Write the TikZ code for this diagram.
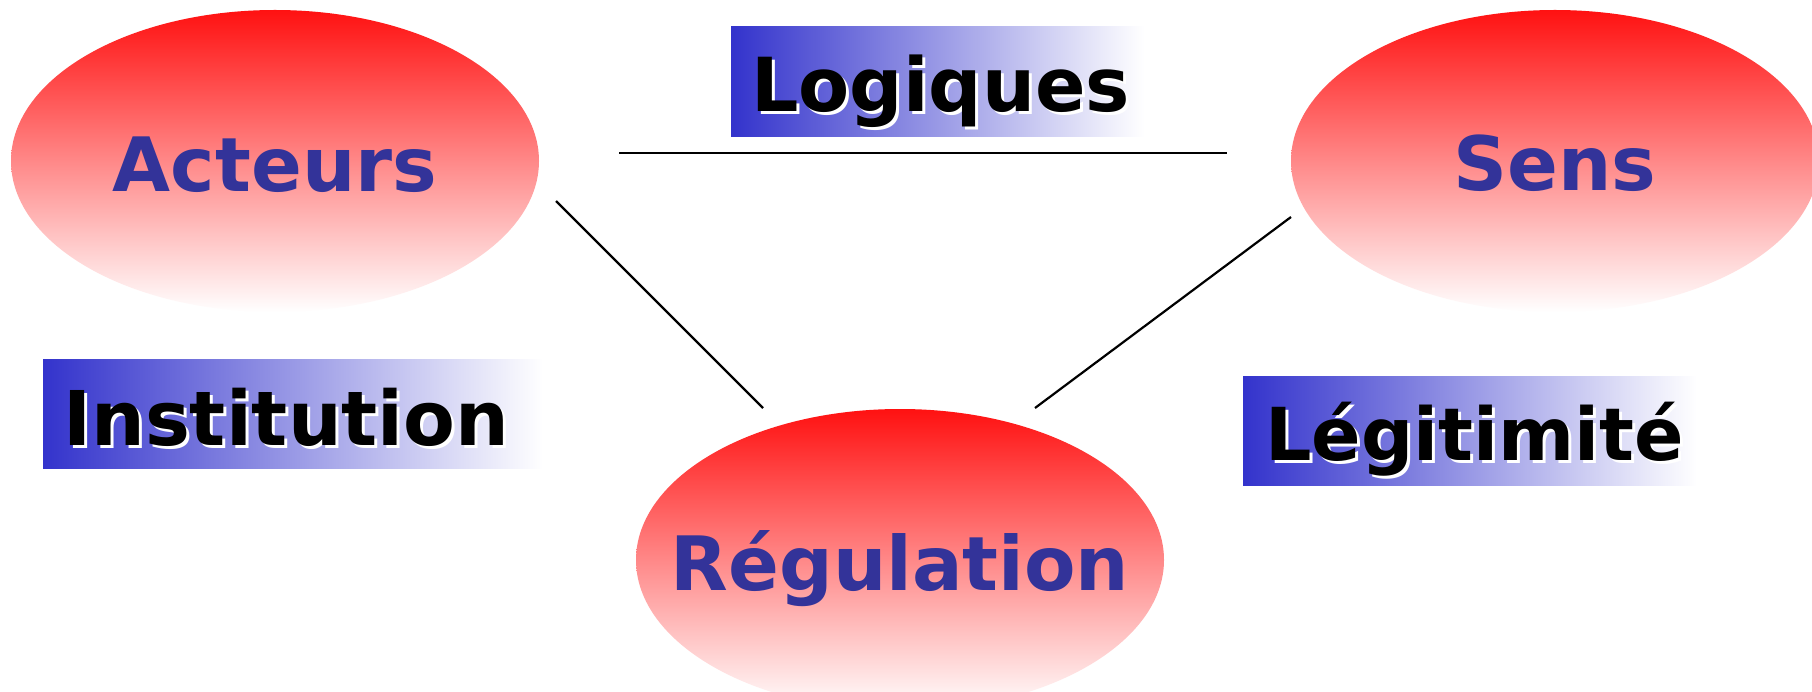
\documentclass[tikz,border=0pt]{standalone}
\usepackage{fontspec}
\setmainfont{DejaVu Sans}
\usetikzlibrary{shapes.geometric}
\definecolor{ered}{RGB}{255,17,17}
\definecolor{emid}{RGB}{253,180,180}
\definecolor{etxt}{RGB}{51,51,153}
\definecolor{bblue}{RGB}{51,51,204}
\tikzset{
  oval/.style={ellipse, draw=none, inner sep=0pt, minimum width=528pt, minimum height=302pt,
    top color=ered, middle color=emid, bottom color=white},
  ovaltext/.style={anchor=base, inner sep=0pt, text=etxt, font=\fontsize{75}{80}\selectfont\bfseries},
  lbox/.style={rectangle, draw=none, inner sep=0pt, left color=bblue, right color=white},
  ltext/.style={anchor=base west, inner sep=0pt, text=black, font=\fontsize{#1}{80}\selectfont\bfseries},
  lshadow/.style={ltext=#1, text=white},
  link/.style={draw=black, line width=2.2pt}
}
\begin{document}
\begin{tikzpicture}[x=1pt,y=-1pt]
\clip (0,0) rectangle (1812,692);
\fill[white] (0,0) rectangle (1812,692);
% ovals
\node[oval] (A) at (275,161) {};
\node[oval] (S) at (1555,161) {};
\node[oval] (R) at (900,560) {};
\node[ovaltext] (At) at ([yshift=-31pt]A.center) {Acteurs};
\node[ovaltext] (St) at ([yshift=-30pt]S.center) {Sens};
\node[ovaltext] (Rt) at ([yshift=-30pt]R.center) {Régulation};
% label boxes
\node[lbox, minimum width=413pt, minimum height=110pt] (LB) at (937.5,82) {};
\node[lbox, minimum width=500pt, minimum height=108pt] (IB) at (293,414) {};
\node[lbox, minimum width=454pt, minimum height=108pt] (GB) at (1470,431) {};
\node[lshadow=74.5] at (754,115) {Logiques};
\node[ltext=74.5] (Lt) at (751,112) {Logiques};
\node[lshadow=75.5] at (66,448) {Institution};
\node[ltext=75.5] (It) at (63,445) {Institution};
\node[lshadow=73] at (1268,463) {Légitimité};
\node[ltext=73] (Gt) at (1265,460) {Légitimité};
% connectors
\coordinate (as1) at (619,153);
\coordinate (as2) at (1227,153);
\coordinate (ar1) at (556,201);
\coordinate (ar2) at (763,408);
\coordinate (sr1) at (1291,217);
\coordinate (sr2) at (1035,408);
\draw[link] (as1) -- (as2);
\draw[link] (ar1) -- (ar2);
\draw[link] (sr1) -- (sr2);
\end{tikzpicture}
\end{document}
